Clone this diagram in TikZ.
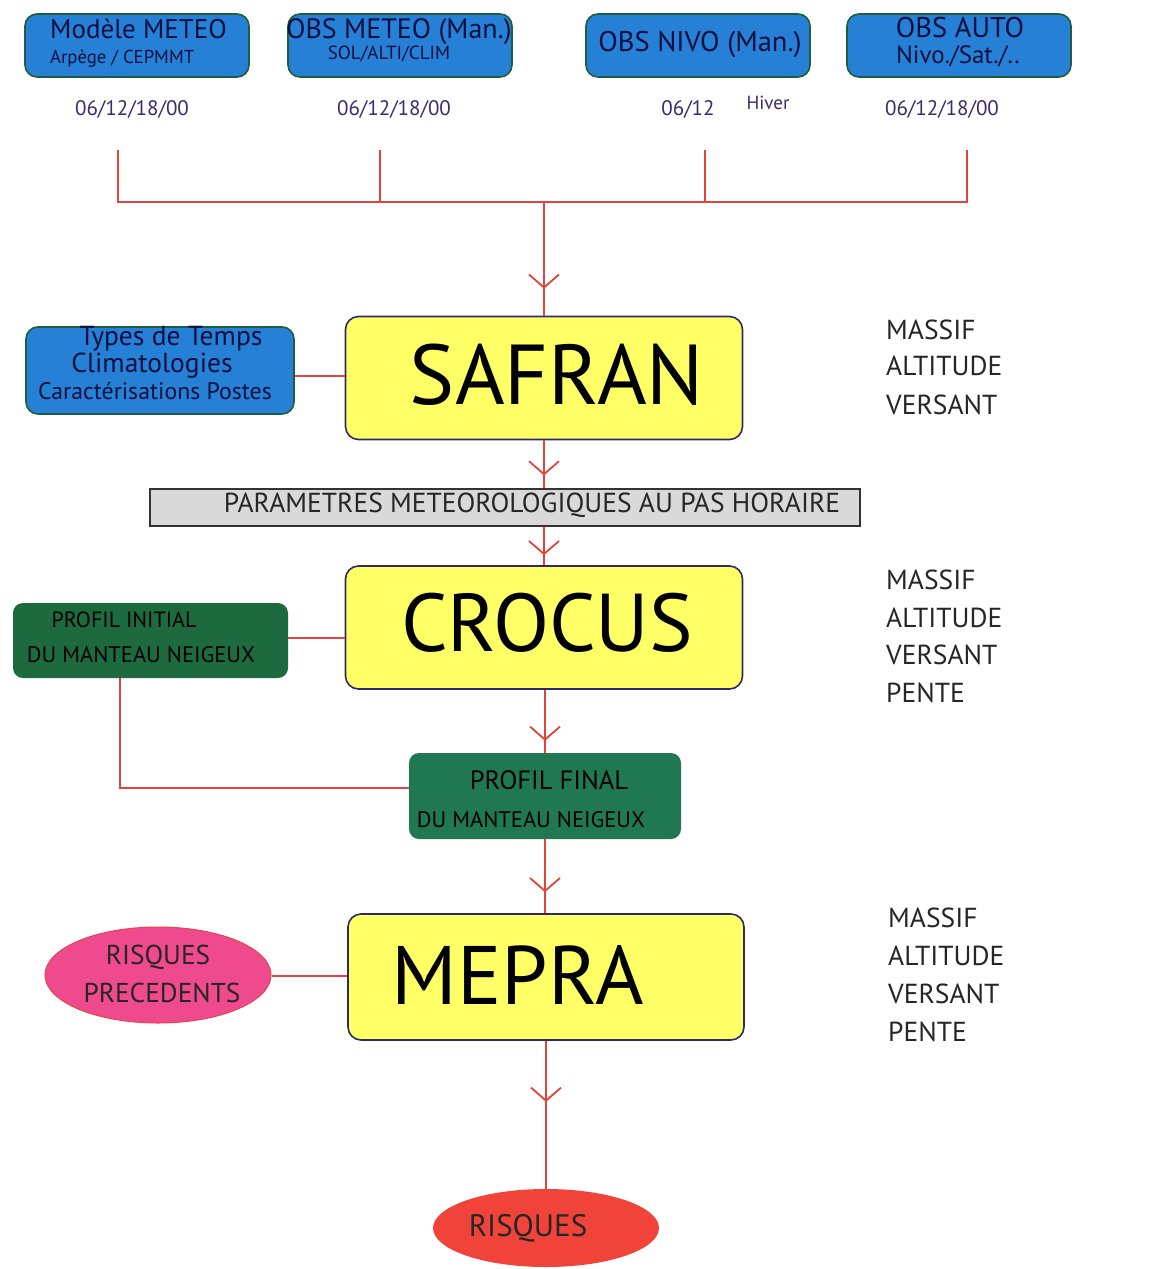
\documentclass[tikz,border=0pt]{standalone}
\usepackage{fontspec}
\setmainfont{PT Sans}
\usetikzlibrary{arrows.meta,decorations.markings,shapes.geometric}
\definecolor{boxblue}{HTML}{2680D6}
\definecolor{blueborder}{HTML}{1E5E3C}
\definecolor{navytext}{HTML}{0B1040}
\definecolor{datetext}{HTML}{3A2C6E}
\definecolor{redline}{HTML}{E4433A}
\definecolor{yellowfill}{HTML}{FFFF66}
\definecolor{yellowborder}{HTML}{2C2A68}
\definecolor{greenA}{HTML}{1C6A3D}
\definecolor{greenB}{HTML}{1F7852}
\definecolor{grayfill}{HTML}{D9D9D9}
\definecolor{pinkfill}{HTML}{EF4A8E}
\definecolor{redfill}{HTML}{F0443A}
\newcommand{\fsz}[1]{\fontsize{#1}{#1}\selectfont}
\tikzset{
  bluebox/.style={draw=blueborder, line width=1.6pt, fill=boxblue, rounded corners=12pt,
    minimum width=224pt, minimum height=63pt, inner sep=0pt, text=navytext, align=center},
  bluetxt/.style={text=navytext, inner sep=0pt, anchor=base},
  bigbox/.style={draw=yellowborder, line width=1.6pt, fill=yellowfill, rounded corners=13pt,
    minimum width=397pt, minimum height=123pt, inner sep=0pt, text=black},
  greenbox/.style={rounded corners=10pt, inner sep=0pt, text=black},
  datelbl/.style={text=datetext, font=\fsz{21}, inner sep=0pt, anchor=base},
  sidelbl/.style={anchor=west, text=black!85, font=\fsz{27.5}, inner sep=0pt},
  plain/.style={inner sep=0pt, text=black!85},
  link/.style={draw=redline, line width=1.8pt},
  vmark/.style={link, postaction={decorate}, decoration={markings,
    mark=at position #1 with {\arrow{Straight Barb[length=13pt,width=30pt,line width=1.8pt]}}}}
}
\begin{document}
\begin{tikzpicture}[x=1pt,y=-1pt]
\useasboundingbox (0,0) rectangle (1157,1269);
\fill[white] (0,0) rectangle (1157,1269);

% top boxes
\node[bluebox] (m1) at (137,45.5) {};
\node[bluetxt, anchor=base west, font=\fsz{27}] (m1a) at (50,38) {Modèle METEO};
\node[bluetxt, anchor=base west, font=\fsz{18.7}] (m1b) at (50,63) {Arpège / CEPMMT};
\node[bluebox] (m2) at (400,45.5) {};
\node[bluetxt, font=\fsz{28}] (m2a) at (399,38) {OBS METEO (Man.)};
\node[bluetxt, font=\fsz{19}] (m2b) at (389,59) {SOL/ALTI/CLIM};
\node[bluebox, font=\fsz{28.5}] (m3) at (698,45.5) {};
\node[bluetxt, font=\fsz{28.5}] (m3a) at (700,51) {OBS NIVO (Man.)};
\node[bluebox] (m4) at (959,45.5) {};
\node[bluetxt, font=\fsz{28.5}] (m4a) at (960,37) {OBS AUTO};
\node[bluetxt, font=\fsz{25}] (m4b) at (958,63) {Nivo./Sat./..};

% dates
\node[datelbl] (d1) at (132,115) {06/12/18/00};
\node[datelbl] (d2) at (394,115) {06/12/18/00};
\node[datelbl] (d3) at (688,115) {06/12};
\node[datelbl, font=\fsz{19}] (d4) at (768,109) {Hiver};
\node[datelbl] (d5) at (942,115) {06/12/18/00};

% collector lines
\coordinate (c1) at (118,150);
\coordinate (c2) at (380,150);
\coordinate (c3) at (705,150);
\coordinate (c4) at (967,150);
\coordinate (h1) at (118,202);
\coordinate (h2) at (380,202);
\coordinate (hc) at (544,202);
\coordinate (h3) at (705,202);
\coordinate (h4) at (967,202);
\draw[link] (c1) -- (h1) -- (h4) -- (c4);
\draw[link] (c2) -- (h2);
\draw[link] (c3) -- (h3);

% SAFRAN
\node[bigbox] (safran) at (544,378) {};
\node[plain, text=black, font=\fsz{85}] (safrant) at (557,375) {SAFRAN};
\draw[vmark=-27pt] (hc) -- (hc |- safran.north);

\node[bluebox, minimum width=268pt, minimum height=87pt] (types) at (160,370.5) {};
\node[bluetxt, font=\fsz{27.5}] (types1) at (171,345) {Types de Temps};
\node[bluetxt, font=\fsz{27.5}] (types2) at (152,372) {Climatologies};
\node[bluetxt, font=\fsz{23.8}] (types3) at (155,399) {Caractérisations Postes};
\draw[link] (types.east |- 0,376) -- (safran.west |- 0,376);

\node[sidelbl] (s1a) at (886,330) {MASSIF};
\node[sidelbl] (s1b) at (886,366) {ALTITUDE};
\node[sidelbl] (s1c) at (886,405) {VERSANT};

% parameters bar
\node[draw=black!80, line width=1.2pt, fill=grayfill, minimum width=710pt, minimum height=37pt, inner sep=0pt] (param) at (505,507.5) {};
\node[plain, font=\fsz{27.5}] (paramt) at (532,505) {PARAMETRES METEOROLOGIQUES AU PAS HORAIRE};
\draw[vmark=-13pt] (safran.south) -- (safran.south |- param.north);

% CROCUS
\node[bigbox] (crocus) at (544,627.5) {};
\node[plain, text=black, font=\fsz{82}] (crocust) at (547,623) {CROCUS};
\draw[vmark=-10pt] (crocus.north |- param.south) -- (crocus.north);

\node[sidelbl] (s2a) at (886,580) {MASSIF};
\node[sidelbl] (s2b) at (886,618) {ALTITUDE};
\node[sidelbl] (s2c) at (886,655) {VERSANT};
\node[sidelbl] (s2d) at (886,693) {PENTE};

\node[greenbox, fill=greenA, minimum width=275pt, minimum height=75pt] (pinit) at (150.5,640.5) {};
\node[plain, text=black, font=\fsz{22}] (pinit1) at (124,620) {PROFIL INITIAL};
\node[plain, text=black, font=\fsz{22.5}] (pinit2) at (141,655) {DU MANTEAU NEIGEUX};
\draw[link] (pinit.east |- 0,638) -- (crocus.west |- 0,638);

% final profile
\node[greenbox, fill=greenB, minimum width=272pt, minimum height=86pt] (pfin) at (545,796) {};
\node[plain, text=black, font=\fsz{26.5}] (pfin1) at (549,780) {PROFIL FINAL};
\node[plain, text=black, font=\fsz{22.5}] (pfin2) at (531,820) {DU MANTEAU NEIGEUX};
\draw[vmark=-12pt] (crocus.south -| pfin.north) -- (pfin.north);
\draw[link] (pinit.south -| 120,0) -- (120,788) -- (pfin.west |- 0,788);

% MEPRA
\node[bigbox, minimum width=396pt, minimum height=126pt] (mepra) at (546,977) {};
\node[plain, text=black, font=\fsz{83}] (mepra t) at (518,975) {MEPRA};
\draw[vmark=-21pt] (pfin.south) -- (pfin.south |- mepra.north);

\node[sidelbl] (s3a) at (888,918) {MASSIF};
\node[sidelbl] (s3b) at (888,956) {ALTITUDE};
\node[sidelbl] (s3c) at (888,994) {VERSANT};
\node[sidelbl] (s3d) at (888,1032) {PENTE};

\node[ellipse, draw=redline!80!pinkfill, line width=1pt, fill=pinkfill, minimum width=226pt, minimum height=96pt, inner sep=0pt] (rprec) at (158,975) {};
\node[plain, font=\fsz{27.3}] (rprec1) at (158,957) {RISQUES};
\node[plain, font=\fsz{27.3}] (rprec2) at (162,993) {PRECEDENTS};
\draw[link] (rprec.east |- 0,976) -- (mepra.west |- 0,976);

% final risks
\node[ellipse, fill=redfill, minimum width=226pt, minimum height=78pt, inner sep=0pt] (risq) at (546,1228) {};
\node[plain, font=\fsz{31}] (risqt) at (528,1228) {RISQUES};
\draw[vmark=-87pt] (mepra.south) -- (mepra.south |- risq.north);
\end{tikzpicture}
\end{document}
